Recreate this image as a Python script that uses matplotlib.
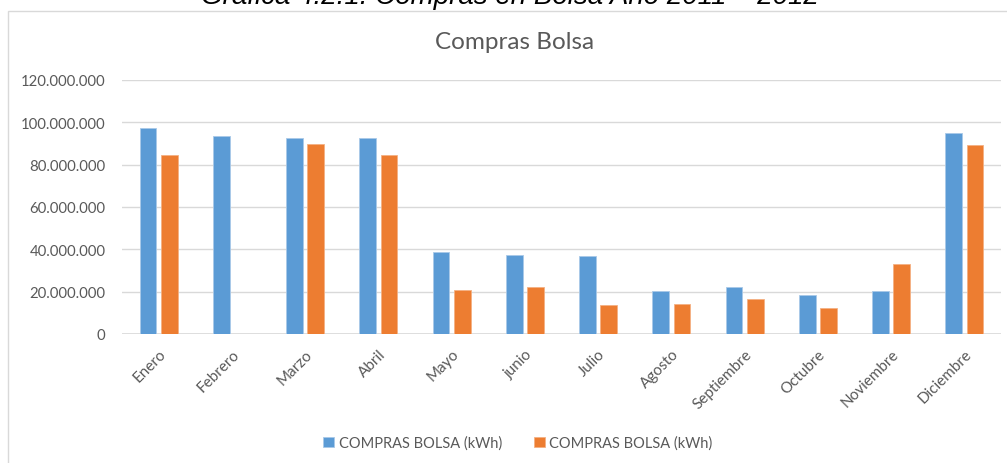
"""
plot.py — monthly 'Compras Bolsa' bar chart (two series, kWh), Excel-like look.
Writes out.png at 1007x464 px.
"""

import matplotlib
matplotlib.use("Agg")
import matplotlib.pyplot as plt
import numpy as np
from matplotlib.patches import Rectangle
from matplotlib.ticker import FuncFormatter, MultipleLocator

# --- data (kWh) ---
months = ["Enero", "Febrero", "Marzo", "Abril", "Mayo", "junio", "Julio",
          "Agosto", "Septiembre", "Octubre", "Noviembre", "Diciembre"]
compras_a = [97.5e6, 93.6e6, 92.7e6, 92.5e6, 38.9e6, 37.4e6, 36.8e6,
             20.1e6, 22.1e6, 18.6e6, 20.2e6, 94.9e6]
compras_b = [84.5e6, 0.0, 89.8e6, 84.6e6, 21.0e6, 22.0e6, 13.8e6,
             14.0e6, 16.4e6, 12.4e6, 33.2e6, 89.4e6]
series_labels = ["COMPRAS BOLSA (kWh)", "COMPRAS BOLSA (kWh)"]
fig_title = "Gráfica 4.2.1. Compras en Bolsa Año 2011 – 2012"
chart_title = "Compras Bolsa"

BLUE, ORANGE = "#5B9BD5", "#ED7D31"
GRID, TEXT = "#D9D9D9", "#595959"
W, H = 1007, 464


def _thousands(v, _pos):
    return f"{int(round(v)):,}".replace(",", ".")


def main():
    fig = plt.figure(figsize=(W / 100, H / 100), dpi=100)
    fig.patch.set_facecolor("white")

    # chart-area frame, cropped on the right and bottom like the source
    fig.patches.append(Rectangle((8 / W, -0.1), 1.2, 1 - 12 / H + 0.1,
                                 transform=fig.transFigure, fill=False,
                                 edgecolor=GRID, linewidth=1.0))

    # document caption, mostly cut off by the top edge (as in the source)
    fig.text(509.5 / W, 1 - 4 / H, fig_title, ha="center", va="baseline",
             fontsize=20, style="italic", family="Liberation Sans", color="black")

    ax = fig.add_axes([122 / W, 1 - 335 / H, (1001 - 122) / W, (335 - 81) / H])
    x = np.arange(len(months))
    bw, off = 0.23, 0.145
    ax.bar(x - off, compras_a, bw, color=BLUE, edgecolor="#A9C9E8",
           linewidth=0.6, label=series_labels[0], zorder=3)
    ax.bar(x + off, compras_b, bw, color=ORANGE, edgecolor="#F4B183",
           linewidth=0.6, label=series_labels[1], zorder=3)

    ax.set_xlim(-0.5, len(months) - 0.5)
    ax.set_ylim(0, 120e6)
    ax.yaxis.set_major_locator(MultipleLocator(20e6))
    ax.yaxis.set_major_formatter(FuncFormatter(_thousands))
    ax.grid(axis="y", color=GRID, linewidth=1.0, zorder=0)
    for s in ax.spines.values():
        s.set_visible(False)
    ax.axhline(0, color=GRID, linewidth=1.2, zorder=2)

    ax.tick_params(axis="y", length=0, pad=12, labelsize=10.7, labelcolor=TEXT)
    ax.tick_params(axis="x", length=0, pad=9, labelsize=11, labelcolor=TEXT)
    ax.set_xticks(x)
    ax.set_xticklabels(months, rotation=45, ha="right", va="top",
                       rotation_mode="anchor")
    for lab in ax.get_xticklabels() + ax.get_yticklabels():
        lab.set_family("Lato")

    fig.text(514.5 / W, 1 - 49 / H, chart_title, ha="center", va="baseline",
             fontsize=17.5, family="Lato", color=TEXT)

    leg = fig.legend(loc="center", bbox_to_anchor=(518 / W, 1 - 444 / H),
                     ncol=2, frameon=False, handlelength=0.75, handleheight=0.75,
                     handletextpad=0.3, columnspacing=2.2,
                     prop={"family": "Lato", "size": 10.5})
    for t in leg.get_texts():
        t.set_color(TEXT)

    fig.savefig("out.png", dpi=100)
    plt.close(fig)


if __name__ == "__main__":
    main()
